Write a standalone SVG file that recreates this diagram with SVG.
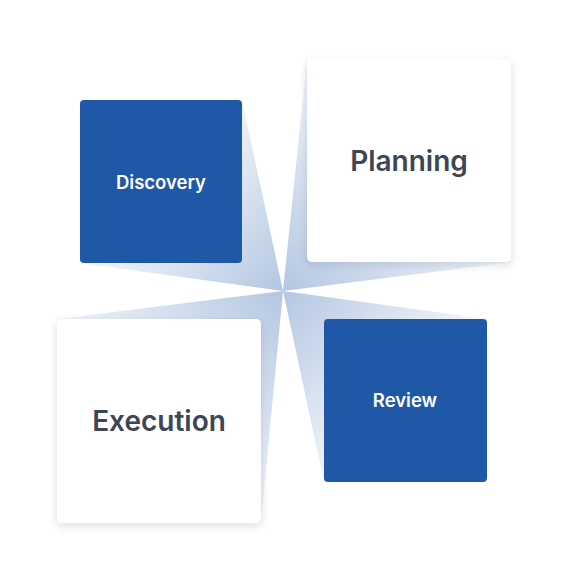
<svg xmlns="http://www.w3.org/2000/svg" width="568" height="581" viewBox="0 0 568 581">
<defs>
<style>
.blue{fill:#2058a8}
.white{fill:#ffffff;filter:url(#sh)}
.lbl-s{font-family:Inter,"Noto Sans",sans-serif;font-weight:600;font-size:18.5px;fill:#ffffff;text-anchor:middle;dominant-baseline:central}
.lbl-l{font-family:Inter,"Noto Sans",sans-serif;font-weight:600;font-size:28px;fill:#3e4557;text-anchor:middle;dominant-baseline:central}
</style>
<filter id="sh" x="-20%" y="-20%" width="140%" height="150%">
<feDropShadow dx="0" dy="3" stdDeviation="4" flood-color="#1e293b" flood-opacity="0.14"/>
</filter>
<linearGradient id="gD" gradientUnits="userSpaceOnUse" x1="283" y1="291" x2="161" y2="181">
<stop offset="0" stop-color="#2058a8" stop-opacity="0.34"/>
<stop offset="1" stop-color="#2058a8" stop-opacity="0.05"/>
</linearGradient>
<linearGradient id="gP" gradientUnits="userSpaceOnUse" x1="283" y1="291" x2="409" y2="160">
<stop offset="0" stop-color="#2058a8" stop-opacity="0.34"/>
<stop offset="1" stop-color="#2058a8" stop-opacity="0.05"/>
</linearGradient>
<linearGradient id="gE" gradientUnits="userSpaceOnUse" x1="283" y1="291" x2="159" y2="421">
<stop offset="0" stop-color="#2058a8" stop-opacity="0.34"/>
<stop offset="1" stop-color="#2058a8" stop-opacity="0.05"/>
</linearGradient>
<linearGradient id="gR" gradientUnits="userSpaceOnUse" x1="283" y1="291" x2="405" y2="400">
<stop offset="0" stop-color="#2058a8" stop-opacity="0.34"/>
<stop offset="1" stop-color="#2058a8" stop-opacity="0.05"/>
</linearGradient>
</defs>
<g id="connectors">
<polygon points="283,291 242,100 80,263" fill="url(#gD)"/>
<polygon points="283,291 307,59 511,262" fill="url(#gP)"/>
<polygon points="283,291 57,319 261,523" fill="url(#gE)"/>
<polygon points="283,291 487,319 324,482" fill="url(#gR)"/>
</g>
<g id="discovery">
<rect class="blue" x="80" y="100" width="162" height="163" rx="4"/>
<text class="lbl-s" x="161" y="182">Discovery</text>
</g>
<g id="planning">
<rect class="white" x="307" y="59" width="204" height="203" rx="5"/>
<text class="lbl-l" x="409" y="161">Planning</text>
</g>
<g id="execution">
<rect class="white" x="57" y="319" width="204" height="204" rx="5"/>
<text class="lbl-l" x="159" y="421">Execution</text>
</g>
<g id="review">
<rect class="blue" x="324" y="319" width="163" height="163" rx="4"/>
<text class="lbl-s" x="405" y="400">Review</text>
</g>
</svg>
